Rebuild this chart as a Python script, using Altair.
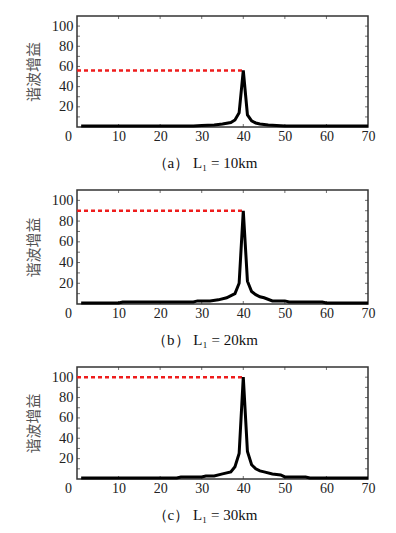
import altair as alt
import pandas as pd

# Panel (a) L1 = 10 km
x_a = [1, 28, 30, 33, 35, 37, 38, 39, 40, 41, 42, 43, 44, 46, 48, 50, 70]
y_a = [1, 1, 1.5, 2, 3, 4.5, 7, 14, 56, 12, 6, 4, 3, 2, 1.5, 1, 1]
# Panel (b) L1 = 20 km
x_b = [1, 10, 11, 28, 29, 32, 34, 36, 38, 39, 40, 41, 42, 43, 44, 45, 47, 50, 51, 59, 60, 70]
y_b = [1, 1, 2, 2, 3, 3, 4, 6, 10, 20, 90, 22, 12, 9, 7, 6, 3, 3, 2, 2, 1, 1]
# Panel (c) L1 = 30 km
x_c = [1, 24, 25, 30, 31, 33, 35, 37, 38, 39, 40, 41, 42, 43, 44, 45, 47, 49, 50, 55, 56, 70]
y_c = [1, 1, 2, 2, 3, 3, 5, 7, 12, 25, 100, 27, 14, 10, 8, 7, 5, 4, 2, 2, 1, 1]

peaks = [56, 90, 100]
peak_x = 40
captions = ["（a）  L₁ = 10km", "（b）  L₁ = 20km", "（c）  L₁ = 30km"]
y_title = "谐波增益"

x_labels = [0, 10, 20, 30, 40, 50, 60, 70]
y_labels = [20, 40, 60, 80, 100]
x_minor = [10, 20, 30, 40, 50, 60]
y_minor = [10, 20, 30, 40, 50, 60, 70, 80, 90, 100]

W = 291
heights = [111, 114, 112]
SERIF = "Liberation Serif"


def panel(xs, ys, peak, cap, h):
    xsc = alt.Scale(domain=[0, 70], nice=False, zero=False)
    ysc = alt.Scale(domain=[0, 110], nice=False, zero=False)
    xaxis = alt.Axis(
        values=x_labels, title=cap, ticks=False, domain=False, grid=False,
        labelFont=SERIF, labelFontSize=14, labelColor="#222", labelPadding=2,
        labelFlush=False, labelOverlap=False,
        labelOffset={"condition": {"test": "datum.value === 0", "value": -9}, "value": 0},
        titleFont=SERIF, titleFontSize=15, titleFontWeight="normal",
        titleColor="#111", titlePadding=12, titleX=W / 2 - 18,
    )
    yaxis = alt.Axis(
        values=y_labels, title=y_title, ticks=False, domain=False, grid=False,
        labelFont=SERIF, labelFontSize=14.5, labelColor="#222", labelPadding=4,
        labelOverlap=False,
        titleFont="Noto Sans CJK SC", titleFontSize=15, titleFontWeight="normal",
        titleColor="#555", titlePadding=10,
    )

    def X(f):
        return alt.X(f, scale=xsc, axis=xaxis)

    def Y(f):
        return alt.Y(f, scale=ysc, axis=yaxis)

    df = pd.DataFrame({"x": xs, "y": ys})
    line = alt.Chart(df).mark_line(color="black", strokeWidth=3).encode(
        x=X("x:Q"), y=Y("y:Q"))
    ref = alt.Chart(pd.DataFrame({"x": [0], "x2": [peak_x], "y": [peak]})).mark_rule(
        color="#ee1c1c", strokeWidth=2.5, strokeDash=[4, 3]
    ).encode(x=X("x:Q"), x2="x2:Q", y=Y("y:Q"))

    xt = pd.DataFrame({"x": x_minor})
    yt = pd.DataFrame({"y": y_minor})
    tk = dict(color="#333", size=6, thickness=1, clip=True)
    xtop = alt.Chart(xt).mark_tick(orient="vertical", **tk).encode(x=X("x:Q"), y=alt.value(0))
    xbot = alt.Chart(xt).mark_tick(orient="vertical", **tk).encode(x=X("x:Q"), y=alt.value(h))
    yl = alt.Chart(yt).mark_tick(orient="horizontal", **tk).encode(y=Y("y:Q"), x=alt.value(0))
    yr = alt.Chart(yt).mark_tick(orient="horizontal", **tk).encode(y=Y("y:Q"), x=alt.value(W))
    return alt.layer(xtop, xbot, yl, yr, ref, line).properties(width=W, height=h)


p1 = panel(x_a, y_a, peaks[0], captions[0], heights[0])
p2 = panel(x_b, y_b, peaks[1], captions[1], heights[1])
p3 = panel(x_c, y_c, peaks[2], captions[2], heights[2])

chart = alt.vconcat(p1, p2, p3, spacing=18).properties(
    padding={"left": 17, "top": 7, "right": 5, "bottom": 5}
).configure_view(stroke="#333", strokeWidth=1.5)

chart.save("out.html", embed_options={"renderer": "svg", "actions": False})
